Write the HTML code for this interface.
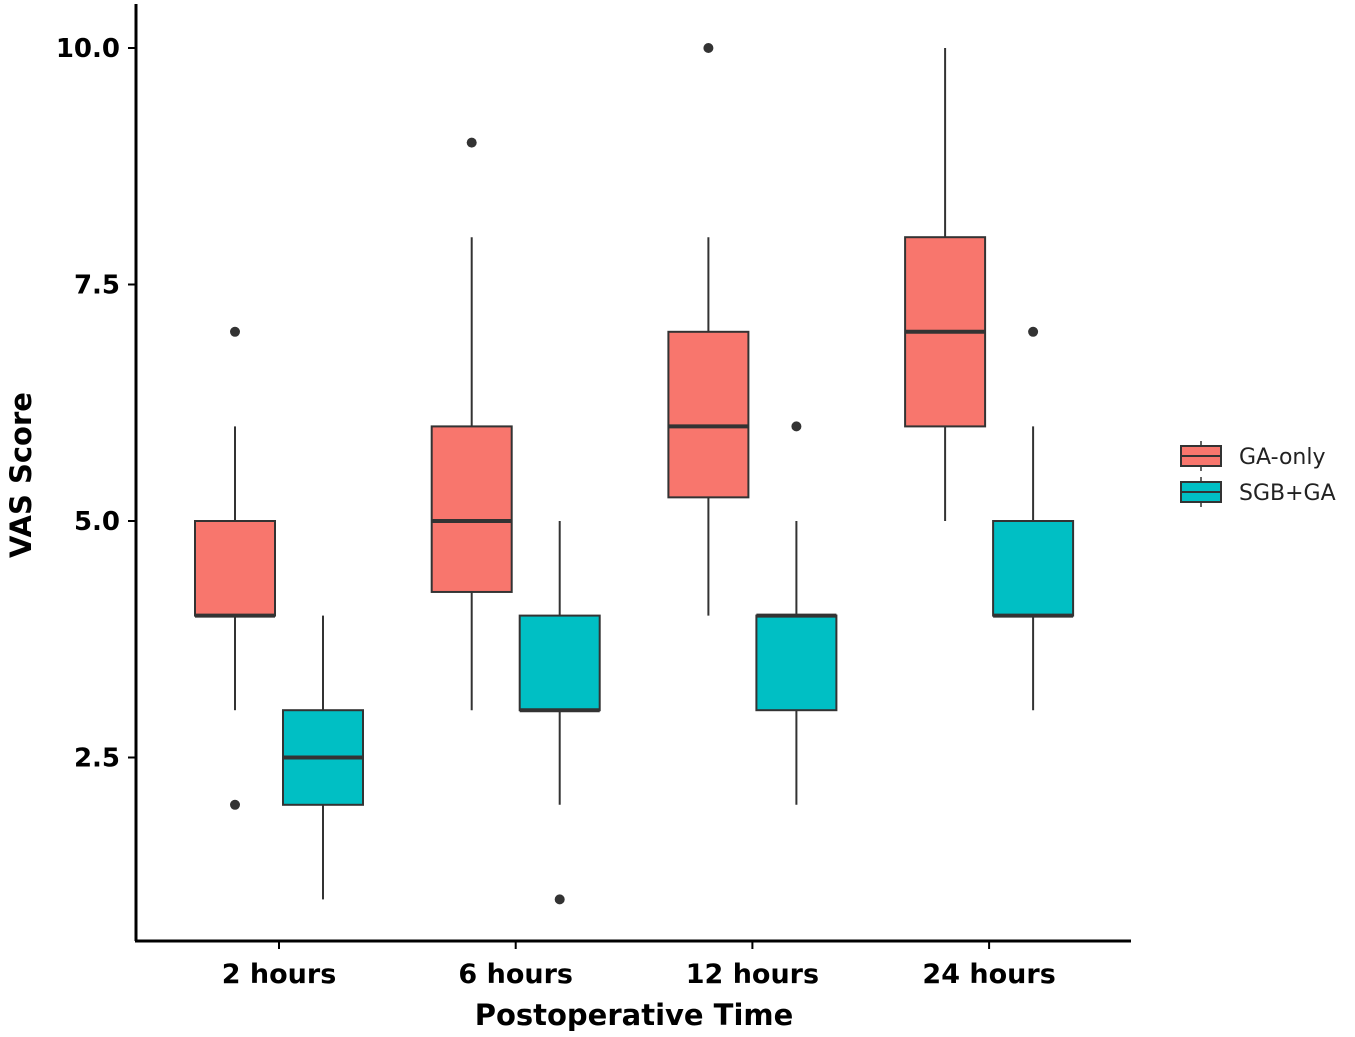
<!DOCTYPE html>
<html><head><meta charset="utf-8"><style>
body{margin:0;background:#fff}
svg{display:block;font-family:"DejaVu Sans","Liberation Sans",sans-serif}
</style></head><body>
<svg id="chart" width="1355" height="1037"></svg>
<script>
const categories=["2 hours","6 hours","12 hours","24 hours"];
const groups=["GA-only","SGB+GA"];
const colors=["#F8766D","#00BFC4"];
// [whiskerLow, q1, median, q3, whiskerHigh]
const gaStats=[[3,4,4,5,6],[3,4.25,5,6,8],[4,5.25,6,7,8],[5,6,7,8,10]];
const sgbStats=[[1,2,2.5,3,4],[2,3,3,4,5],[2,3,4,4,5],[3,4,4,5,6]];
const gaOutliers=[[7,2],[9],[10],[]];
const sgbOutliers=[[],[1],[6],[7]];
const yTicks=[2.5,5.0,7.5,10.0];

const NS="http://www.w3.org/2000/svg";
const svg=document.getElementById('chart');
function el(t,a,p){const e=document.createElementNS(NS,t);for(const k in a)e.setAttribute(k,a[k]);(p||svg).appendChild(e);return e;}
const y=v=>48+(10-v)*94.6;
const x=i=>279+i*236.7;
const dodge=[-44,44], bw=80;

const ax=el('line',{x1:136,y1:4,x2:136,y2:941,stroke:'#000','stroke-width':3});

const axx=el('line',{x1:135,y1:941,x2:1131,y2:941,stroke:'#000','stroke-width':3});


yTicks.forEach(v=>{
  const t=el('line',{x1:128,x2:136,y1:y(v),y2:y(v),stroke:'#000','stroke-width':2});
  
  const l=el('text',{x:120,y:y(v)+9,'text-anchor':'end','font-size':26,'font-weight':'bold',fill:'#000'});
  l.textContent=v.toFixed(1);
  
});
categories.forEach((c,i)=>{
  const t=el('line',{x1:x(i),x2:x(i),y1:941,y2:949,stroke:'#000','stroke-width':2});
  
  const l=el('text',{x:x(i),y:983,'text-anchor':'middle','font-size':27,'font-weight':'bold',fill:'#000'});
  l.textContent=c;
  
});

function box(s,outs,cx,col,name){
  const g=el('g',{});
  
  el('line',{x1:cx,x2:cx,y1:y(s[4]),y2:y(s[3]),stroke:'#333','stroke-width':2},g);
  el('line',{x1:cx,x2:cx,y1:y(s[1]),y2:y(s[0]),stroke:'#333','stroke-width':2},g);
  el('rect',{x:cx-bw/2,y:y(s[3]),width:bw,height:y(s[1])-y(s[3]),fill:col,stroke:'#333','stroke-width':2},g);
  el('line',{x1:cx-bw/2,x2:cx+bw/2,y1:y(s[2]),y2:y(s[2]),stroke:'#333','stroke-width':4},g);
  outs.forEach(o=>el('circle',{cx:cx,cy:y(o),r:5,fill:'#333'},g));
}
categories.forEach((c,i)=>{
  box(gaStats[i],gaOutliers[i],x(i)+dodge[0],colors[0],'box-ga-only-'+i);
  box(sgbStats[i],sgbOutliers[i],x(i)+dodge[1],colors[1],'box-sgb-ga-'+i);
});

const yt=el('text',{x:0,y:0,transform:'translate(31,475) rotate(-90)','text-anchor':'middle','font-size':29,'font-weight':'bold',fill:'#000'});
yt.textContent='VAS Score';
const xt=el('text',{x:634,y:1025,'text-anchor':'middle','font-size':29,'font-weight':'bold',fill:'#000'});
xt.textContent='Postoperative Time';

groups.forEach((gname,i)=>{
  const g=el('g',{});
  
  const cy=456+i*36;
  el('line',{x1:1201,x2:1201,y1:cy-15,y2:cy+15,stroke:'#333','stroke-width':1.5},g);
  el('rect',{x:1181,y:cy-10,width:40,height:20,fill:colors[i],stroke:'#333','stroke-width':2},g);
  el('line',{x1:1181,x2:1221,y1:cy,y2:cy,stroke:'#333','stroke-width':2},g);
  const t=el('text',{x:1239,y:cy+8,'font-size':22,fill:'#222'},g);t.textContent=gname;
});
</script>
</body></html>
